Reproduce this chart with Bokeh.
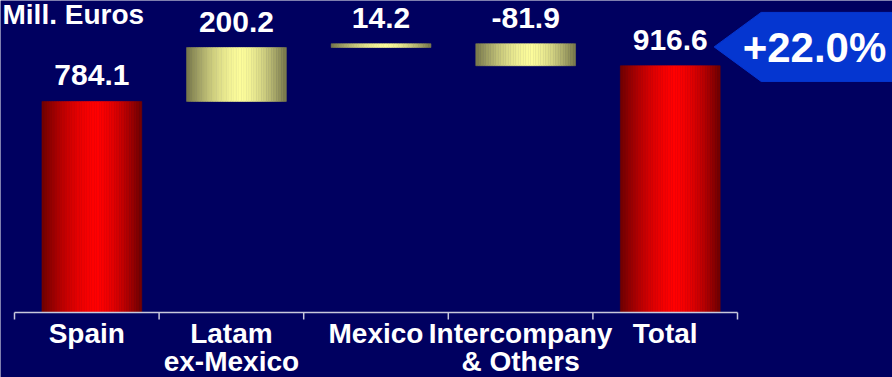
import numpy as np
from bokeh.plotting import figure
from bokeh.models import Range1d
from bokeh.core.properties import value
from bokeh.embed import file_html
from bokeh.resources import INLINE

# ---------------- data ----------------
categories = ["Spain", "Latam\nex-Mexico", "Mexico", "Intercompany\n& Others", "Total"]
values = [784.1, 200.2, 14.2, -81.9, 916.6]
is_total = [True, False, False, False, True]
value_labels = ["784.1", "200.2", "14.2", "-81.9", "916.6"]
unit_label = "Mill. Euros"
growth_label = "+22.0%"

# ---------------- layout / style ----------------
W, H = 892, 377
BG = "#000060"
FONT = "Liberation Sans"
band_px = 144.6          # width of one category band in pixels
axis_left_px = 14        # pixel column where the axis starts
axis_px = 312            # pixel row of the zero line
y_top = 1159.0
px_per_unit = axis_px / y_top
y_bottom = -(H - axis_px) / px_per_unit


def xd(px):
    return (px - axis_left_px) / band_px


def yd(py):
    return (axis_px - py) / px_per_unit


p = figure(width=W, height=H, output_backend="svg", toolbar_location=None,
           x_range=Range1d(xd(0), xd(W)), y_range=Range1d(y_bottom, y_top),
           x_axis_location=None, y_axis_location=None,
           min_border=0, border_fill_color=BG, background_fill_color=BG,
           outline_line_color=None)
p.grid.visible = False

# ---------------- waterfall geometry ----------------
bottoms, tops = [], []
running = 0.0
for v, tot in zip(values, is_total):
    if tot:
        b, t = 0.0, v
        running = v
    else:
        b, t = (running, running + v) if v >= 0 else (running + v, running)
        running += v
    bottoms.append(b)
    tops.append(t)

n = len(categories)
centers = np.arange(n) + 0.5
bar_w = 0.69
dx = 0.035

RED_DARK, RED_BRIGHT = (110, 0, 0), (255, 0, 0)
YEL_DARK, YEL_BRIGHT = (118, 118, 74), (252, 252, 155)


def mix(c0, c1, f):
    return "#%02x%02x%02x" % tuple(int(round(a + (b - a) * f)) for a, b in zip(c0, c1))


N = 40
for i in range(n):
    left = centers[i] + dx - bar_w / 2
    edges = left + bar_w * np.arange(N + 1) / N
    t = (np.arange(N) + 0.5) / N
    c = 0.55
    d = np.where(t < c, (c - t) / c, (t - c) / (1 - c))
    f = 1 - d ** 1.6
    dark, bright = (RED_DARK, RED_BRIGHT) if is_total[i] else (YEL_DARK, YEL_BRIGHT)
    cols = [mix(dark, bright, fi) for fi in f]
    p.quad(left=edges[:-1], right=edges[1:], bottom=[bottoms[i]] * N, top=[tops[i]] * N,
           fill_color=cols, line_color=cols, line_width=0.6)

# value labels
p.text(x=centers + dx, y=tops, text=value_labels, y_offset=-26,
       text_align="center", text_baseline="alphabetic",
       text_font=value(FONT), text_font_style="bold", text_font_size="30px",
       text_color="white")

# ---------------- axis ----------------
AX_COL = "#c8c8dc"
p.segment(x0=[0], x1=[n], y0=[0], y1=[0], line_color=AX_COL, line_width=1.5)
tick_len = 7 / px_per_unit
p.segment(x0=list(range(n + 1)), x1=list(range(n + 1)), y0=[0] * (n + 1),
          y1=[-tick_len] * (n + 1), line_color=AX_COL, line_width=1.5)

line1 = [c.split("\n")[0] for c in categories]
line2 = [c.split("\n")[1] if "\n" in c else "" for c in categories]
for txt, off in ((line1, 21), (line2, 49)):
    p.text(x=centers, y=[0] * n, text=txt, y_offset=off,
           text_align="center", text_baseline="alphabetic",
           text_font=value(FONT), text_font_style="bold", text_font_size="28px",
           text_color="white")

# unit label (top-left)
p.text(x=[xd(2)], y=[yd(14)], text=[unit_label], text_align="left",
       text_baseline="alphabetic", text_font=value(FONT), text_font_style="bold",
       text_font_size="28px", text_color="white")

# ---------------- growth callout ----------------
tot_i = n - 1
tip_x = centers[tot_i] + dx + bar_w / 2 - 6 / band_px
body_x = tip_x + 47 / band_px
cy = values[tot_i] + 70
half_h = 34.5 / px_per_unit
right = xd(W + 10)
p.patch(x=[tip_x, body_x, right, right, body_x], y=[cy, cy + half_h, cy + half_h, cy - half_h, cy - half_h],
        fill_color="#0536d0", line_color="#0536d0")
p.text(x=[xd(814)], y=[cy], text=[growth_label], y_offset=1,
       text_align="center", text_baseline="alphabetic",
       text_font=value(FONT), text_font_style="bold", text_font_size="42px",
       text_color="white")

open("out.html", "w").write(file_html(p, INLINE))
